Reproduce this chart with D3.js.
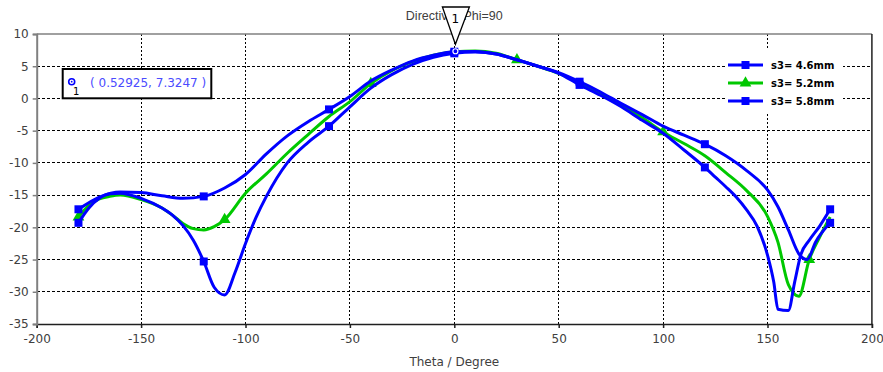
<!DOCTYPE html>
<html>
<head>
<meta charset="utf-8">
<script src="https://cdn.jsdelivr.net/npm/d3@7"></script>
<style>
  html, body { margin: 0; padding: 0; background: #fff; }
  svg { display: block; }
</style>
</head>
<body>
<svg id="chart" width="883" height="372"></svg>
<script>
// ---------------- data ----------------
const title = "Directivity Phi=90";
const xLabel = "Theta / Degree";
const xTicks = [-200, -150, -100, -50, 0, 50, 100, 150, 200];
const yTicks = [-35, -30, -25, -20, -15, -10, -5, 0, 5, 10];
const seriesNames = ["s3= 4.6mm", "s3= 5.2mm", "s3= 5.8mm"];

const theta46 = [-180,-170,-160,-150,-140,-130,-120,-110,-100,-90,-80,-70,-60,-50,-40,-30,-20,-10,0,10,20,30,40,50,60,70,80,90,100,110,120,125,130,135,140,145,150,153,155,160,163,166,170,175,180];
const val46   = [-17.2,-15.3,-14.5,-14.6,-15.1,-15.5,-15.2,-13.9,-11.8,-8.6,-5.8,-3.6,-1.7,0.3,2.7,4.4,5.8,6.7,7.25,7.3,6.9,6.0,5.0,3.9,2.1,0.5,-1.3,-3.4,-5.4,-8.0,-10.7,-12.2,-13.7,-15.3,-17.3,-19.8,-24.3,-28.5,-32.7,-32.9,-28.5,-24.2,-22.0,-19.8,-17.2];

const theta52 = [-180,-175,-170,-165,-160,-150,-140,-135,-130,-125,-120,-115,-110,-100,-90,-80,-70,-60,-50,-40,-30,-20,-10,0,10,20,30,40,50,60,70,80,90,100,110,120,130,140,150,155,160,165,170,175,180];
const val52   = [-18.4,-16.6,-15.6,-15.2,-15.0,-15.7,-17.0,-18.1,-19.4,-20.2,-20.4,-19.9,-18.8,-14.7,-11.7,-8.5,-5.6,-2.8,-0.5,2.3,4.3,5.7,6.7,7.25,7.35,7.0,6.0,5.0,3.9,2.4,0.8,-1.0,-3.0,-5.2,-7.0,-8.9,-11.5,-14.3,-18.3,-22.3,-28.9,-30.7,-25.0,-21.5,-18.4];

const theta58 = [-180,-175,-170,-165,-160,-150,-140,-135,-130,-125,-120,-115,-110,-105,-100,-95,-90,-80,-70,-60,-50,-40,-30,-20,-10,0,10,20,30,40,50,60,70,80,90,100,110,120,130,140,150,155,160,165,169,173,180];
const val58   = [-19.3,-17.0,-15.5,-14.8,-14.7,-15.5,-17.0,-18.1,-19.7,-22.0,-25.3,-29.3,-30.5,-27.0,-22.5,-18.5,-15.2,-10.0,-6.8,-4.3,-1.3,1.6,3.7,5.3,6.4,7.0,7.2,6.9,6.0,5.0,4.0,2.6,1.0,-0.8,-2.5,-4.3,-5.7,-7.1,-8.9,-11.2,-14.2,-16.8,-20.4,-24.1,-25.0,-22.3,-19.3];

const squareMarks = [-180, -120, -60, 0, 60, 120, 180];
const triangleMarks = [-180, -110, -40, 30, 100, 170];

const markerTheta = 0.52925, markerValue = 7.3247;
const markerText = "( 0.52925, 7.3247 )";

// ---------------- layout ----------------
const svg = d3.select("#chart");
const x = d3.scaleLinear().domain([-200, 200]).range([36.7, 871.9]);
const y = d3.scaleLinear().domain([-35, 10]).range([324, 34]);
const BLUE = "#0000ff", GREEN = "#00c800";
const FONT = "'DejaVu Sans', sans-serif";
const fmt = d => String(d);

// grid
const grid = svg.append("g");
grid.selectAll("line.v").data(xTicks.filter(t => t > -200 && t < 200)).join("line")
  .attr("x1", d => x(d)).attr("x2", d => x(d)).attr("y1", y(10)).attr("y2", y(-35))
  .attr("stroke", "#000").attr("stroke-width", 1).attr("stroke-dasharray", "2,2")
  .attr("shape-rendering", "crispEdges");
grid.selectAll("line.h").data(yTicks.filter(t => t > -35 && t < 10)).join("line")
  .attr("x1", x(-200)).attr("x2", x(200)).attr("y1", d => y(d)).attr("y2", d => y(d))
  .attr("stroke", "#000").attr("stroke-width", 1).attr("stroke-dasharray", "3,2")
  .attr("shape-rendering", "crispEdges");

// frame top & right
svg.append("line").attr("x1", x(-200)).attr("x2", x(200)).attr("y1", y(10)).attr("y2", y(10))
  .attr("stroke", "#808080").attr("stroke-width", 1.5);
svg.append("line").attr("x1", x(200)).attr("x2", x(200)).attr("y1", y(10)).attr("y2", y(-35))
  .attr("stroke", "#202020").attr("stroke-width", 1.5);

// axes
const xAxis = svg.append("g").attr("transform", `translate(0,${y(-35)})`)
  .call(d3.axisBottom(x).tickValues(xTicks).tickSize(4).tickPadding(6).tickFormat(fmt));
xAxis.select(".domain").attr("stroke", "#202020").attr("stroke-width", 1.5);
xAxis.selectAll(".tick line").attr("stroke", "#202020").attr("stroke-width", 1.5);
xAxis.selectAll("text").attr("font-family", FONT).attr("font-size", 12).attr("fill", "#404040");

const yAxis = svg.append("g").attr("transform", `translate(${x(-200)},0)`)
  .call(d3.axisLeft(y).tickValues(yTicks).tickSize(4).tickPadding(4).tickFormat(fmt));
yAxis.select(".domain").attr("stroke", "#808080").attr("stroke-width", 2);
yAxis.selectAll(".tick line").attr("stroke", "#808080").attr("stroke-width", 1.5);
yAxis.selectAll("text").attr("font-family", FONT).attr("font-size", 12).attr("fill", "#404040");

svg.append("text").attr("x", x(0)).attr("y", 366).attr("text-anchor", "middle")
  .attr("font-family", FONT).attr("font-size", 12).attr("fill", "#404040").text(xLabel);

// title
svg.append("text").attr("x", x(0)).attr("y", 20).attr("text-anchor", "middle")
  .attr("font-family", "'Liberation Sans', Arial, sans-serif").attr("font-size", 12.5)
  .attr("fill", "#404040").text(title);

// series
const series = [
  { name: seriesNames[1], t: theta52, v: val52, color: GREEN, marks: triangleMarks, sym: d3.symbolTriangle },
  { name: seriesNames[0], t: theta46, v: val46, color: BLUE, marks: squareMarks, sym: d3.symbolSquare },
  { name: seriesNames[2], t: theta58, v: val58, color: BLUE, marks: squareMarks, sym: d3.symbolSquare }
];
const line = d3.line().x(d => x(d[0])).y(d => y(d[1])).curve(d3.curveMonotoneX);
series.forEach(s => {
  const pts = s.t.map((t, i) => [t, s.v[i]]);
  svg.append("path").datum(pts).attr("d", line).attr("fill", "none")
    .attr("stroke", s.color).attr("stroke-width", 3).attr("stroke-linejoin", "round");
  const mk = s.marks.map(t => [t, s.v[s.t.indexOf(t)]]);
  svg.selectAll(null).data(mk).join("path")
    .attr("transform", d => `translate(${x(d[0])},${y(d[1])})`)
    .attr("d", d3.symbol().type(s.sym).size(s.sym === d3.symbolSquare ? 64 : 60))
    .attr("fill", s.color);
});

// marker 1
const mx = x(markerTheta), my = y(markerValue);
svg.append("circle").attr("cx", mx).attr("cy", my).attr("r", 2.5).attr("fill", "none")
  .attr("stroke", "#fff").attr("stroke-width", 1.2);
svg.append("path").attr("d", `M${mx - 13},7 L${mx + 14},7 L${mx},${my - 7} Z`)
  .attr("fill", "#fff").attr("stroke", "#000").attr("stroke-width", 1.3);
svg.append("text").attr("x", mx).attr("y", 23).attr("text-anchor", "middle")
  .attr("font-family", FONT).attr("font-size", 12).attr("fill", "#000").text("1");

// annotation box
svg.append("rect").attr("x", 62.7).attr("y", 69).attr("width", 148.6).attr("height", 29.3)
  .attr("fill", "#fff").attr("stroke", "#000").attr("stroke-width", 2);
svg.append("circle").attr("cx", 71.7).attr("cy", 81.7).attr("r", 3).attr("fill", "#fff")
  .attr("stroke", BLUE).attr("stroke-width", 1.6);
svg.append("circle").attr("cx", 71.7).attr("cy", 81.7).attr("r", 0.9).attr("fill", BLUE);
svg.append("text").attr("x", 73).attr("y", 95).attr("font-family", FONT).attr("font-size", 10)
  .attr("fill", "#000").text("1");
svg.append("text").attr("x", 90).attr("y", 87).attr("font-family", FONT).attr("font-size", 12)
  .attr("fill", "#4b4bff").text(markerText);

// legend
const leg = svg.append("g");
leg.append("rect").attr("x", 725).attr("y", 50).attr("width", 118).attr("height", 64).attr("fill", "#fff");
const legOrder = [series[1], series[0], series[2]];
legOrder.forEach((s, i) => {
  const cy = 65 + i * 18;
  leg.append("line").attr("x1", 728).attr("x2", 763).attr("y1", cy).attr("y2", cy)
    .attr("stroke", s.color).attr("stroke-width", 3);
  leg.append("path").attr("transform", `translate(745.5,${cy})`)
    .attr("d", d3.symbol().type(s.sym).size(s.sym === d3.symbolSquare ? 64 : 60)).attr("fill", s.color);
  leg.append("text").attr("x", 771).attr("y", cy + 4).attr("font-family", FONT)
    .attr("font-weight", "bold").attr("font-size", 10).attr("fill", "#000").text(s.name);
});
</script>
</body>
</html>
